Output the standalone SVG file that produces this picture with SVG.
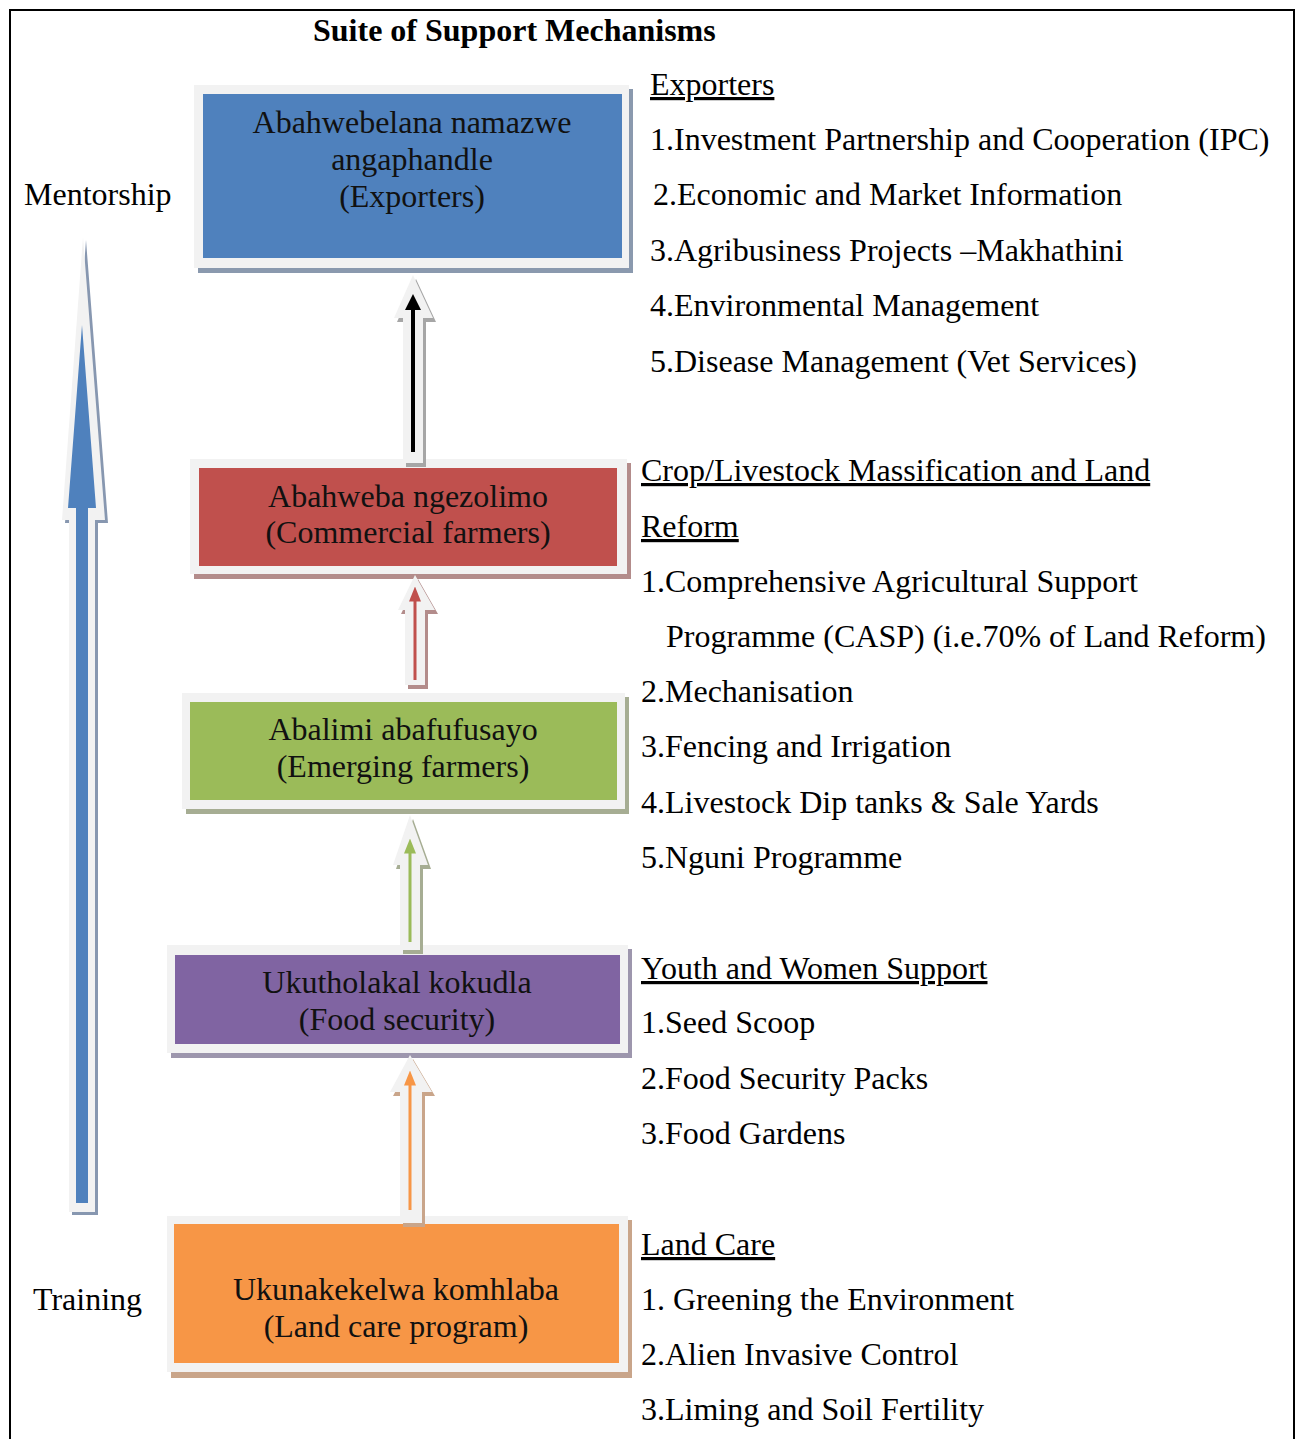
<svg xmlns="http://www.w3.org/2000/svg" width="1295" height="1439" viewBox="0 0 1295 1439">
  <style>
    text { font-family: "Liberation Serif", "Times New Roman", serif; font-size: 32px; fill: #000; }
    .title { font-weight: bold; }
    .box-label { text-anchor: middle; fill: #111; }
    .head { text-decoration: underline; }
    .frame { fill: #f2f2f2; }
    .block { fill: #f2f2f2; }
  </style>
  <defs>
    <marker id="tip-black" markerWidth="4" markerHeight="4" refX="0.5" refY="2" orient="auto" markerUnits="strokeWidth">
      <path d="M0,0 L4,2 L0,4 Z" fill="#000"/>
    </marker>
    <marker id="tip-red" markerWidth="5" markerHeight="4" refX="0.5" refY="2" orient="auto" markerUnits="strokeWidth">
      <path d="M0,0 L5,2 L0,4 Z" fill="#c0504d"/>
    </marker>
    <marker id="tip-green" markerWidth="5" markerHeight="4" refX="0.5" refY="2" orient="auto" markerUnits="strokeWidth">
      <path d="M0,0 L5,2 L0,4 Z" fill="#9bbb59"/>
    </marker>
    <marker id="tip-orange" markerWidth="5" markerHeight="4" refX="0.5" refY="2" orient="auto" markerUnits="strokeWidth">
      <path d="M0,0 L5,2 L0,4 Z" fill="#f79646"/>
    </marker>
  </defs>

  <rect width="1295" height="1439" fill="#fff"/>
  <!-- outer frame -->
  <path d="M10,1439 V10 H1294 V1439" fill="none" stroke="#000" stroke-width="2"/>

  <text class="title" x="313" y="41">Suite of Support Mechanisms</text>
  <text x="24" y="205">Mentorship</text>
  <text x="33" y="1310">Training</text>

  <!-- big progression arrow on the left -->
  <g id="progress-arrow">
    <path d="M86,240 L108,523 L98,523 L98,1215 L72,1215 L72,523 L65,523 Z" fill="#8797b0"/>
    <path d="M83,237 L105,520 L95,520 L95,1212 L69,1212 L69,520 L62,520 Z" fill="#f2f2f2"/>
    <path d="M82,325 L96,508 L88,508 L88,1203 L76,1203 L76,508 L68,508 Z" fill="#4f81bd"/>
  </g>

  <!-- nodes -->
  <g id="node-exporters">
    <rect x="198" y="89" width="435" height="184" fill="#8a99ae"/>
    <rect class="frame" x="194" y="85" width="435" height="183"/>
    <rect x="203" y="94" width="419" height="164" fill="#4f81bd"/>
    <text class="box-label" x="412" y="133">Abahwebelana namazwe</text>
    <text class="box-label" x="412" y="170">angaphandle</text>
    <text class="box-label" x="412" y="207">(Exporters)</text>
  </g>

  <g id="node-commercial">
    <rect x="194" y="463" width="437" height="116" fill="#b38c8b"/>
    <rect class="frame" x="190" y="459" width="437" height="115"/>
    <rect x="199" y="468" width="418" height="98" fill="#c0504d"/>
    <text class="box-label" x="408" y="507">Abahweba ngezolimo</text>
    <text class="box-label" x="408" y="543">(Commercial farmers)</text>
  </g>

  <g id="node-emerging">
    <rect x="186" y="697" width="443" height="117" fill="#a6ad93"/>
    <rect class="frame" x="182" y="693" width="443" height="116"/>
    <rect x="190" y="702" width="427" height="98" fill="#9bbb59"/>
    <text class="box-label" x="403" y="740">Abalimi abafufusayo</text>
    <text class="box-label" x="403" y="777">(Emerging farmers)</text>
  </g>

  <g id="node-food-security">
    <rect x="171" y="949" width="461" height="109" fill="#9d96ad"/>
    <rect class="frame" x="167" y="945" width="461" height="108"/>
    <rect x="175" y="955" width="445" height="89" fill="#8064a2"/>
    <text class="box-label" x="397" y="993">Ukutholakal kokudla</text>
    <text class="box-label" x="397" y="1030">(Food security)</text>
  </g>

  <g id="node-land-care">
    <rect x="171" y="1220" width="461" height="158" fill="#c9a58a"/>
    <rect class="frame" x="167" y="1216" width="461" height="156"/>
    <rect x="174" y="1224" width="445" height="139" fill="#f79646"/>
    <text class="box-label" x="396" y="1300">Ukunakekelwa komhlaba</text>
    <text class="box-label" x="396" y="1337">(Land care program)</text>
  </g>

  <!-- connectors: block arrows with a coloured line arrow inside -->
  <g id="connectors">
    <path d="M416,279 L436,322 L426,322 L426,467 L406,467 L406,322 L397,322 Z" fill="#a6a6a6"/>
    <path class="block" d="M413,275 L433,318 L423,318 L423,463 L403,463 L403,318 L394,318 Z"/>
    <line x1="413" y1="452" x2="413" y2="308" stroke="#000" stroke-width="4" marker-end="url(#tip-black)"/>

    <path d="M418,579 L438,614 L428,614 L428,689 L408,689 L408,614 L401,614 Z" fill="#b38c8b"/>
    <path class="block" d="M415,575 L435,610 L425,610 L425,685 L405,685 L405,610 L398,610 Z"/>
    <line x1="415" y1="680" x2="415" y2="600" stroke="#c0504d" stroke-width="3" marker-end="url(#tip-red)"/>

    <path d="M413,819 L431,869 L423,869 L423,954 L403,954 L403,869 L396,869 Z" fill="#a6ad93"/>
    <path class="block" d="M410,815 L428,865 L420,865 L420,950 L400,950 L400,865 L393,865 Z"/>
    <line x1="410" y1="942" x2="410" y2="852" stroke="#9bbb59" stroke-width="3" marker-end="url(#tip-green)"/>

    <path d="M413,1059 L435,1096 L425,1096 L425,1227 L403,1227 L403,1096 L393,1096 Z" fill="#c9a58a"/>
    <path class="block" d="M410,1055 L432,1092 L422,1092 L422,1223 L400,1223 L400,1092 L390,1092 Z"/>
    <line x1="410" y1="1210" x2="410" y2="1084" stroke="#f79646" stroke-width="3" marker-end="url(#tip-orange)"/>
  </g>

  <!-- support mechanisms per level -->
  <g id="list-exporters">
    <text class="head" x="650" y="95">Exporters</text>
    <text x="650" y="150">1.Investment Partnership and Cooperation (IPC)</text>
    <text x="653" y="205">2.Economic and Market Information</text>
    <text x="650" y="261">3.Agribusiness Projects –Makhathini</text>
    <text x="650" y="316">4.Environmental Management</text>
    <text x="650" y="372">5.Disease Management (Vet Services)</text>
  </g>

  <g id="list-massification">
    <text class="head" x="641" y="481">Crop/Livestock Massification and Land</text>
    <text class="head" x="641" y="537">Reform</text>
    <text x="641" y="592">1.Comprehensive Agricultural Support</text>
    <text x="666" y="647">Programme (CASP) (i.e.70% of Land Reform)</text>
    <text x="641" y="702">2.Mechanisation</text>
    <text x="641" y="757">3.Fencing and Irrigation</text>
    <text x="641" y="813">4.Livestock Dip tanks &amp; Sale Yards</text>
    <text x="641" y="868">5.Nguni Programme</text>
  </g>

  <g id="list-youth-women">
    <text class="head" x="641" y="979">Youth and Women Support</text>
    <text x="641" y="1033">1.Seed Scoop</text>
    <text x="641" y="1089">2.Food Security Packs</text>
    <text x="641" y="1144">3.Food Gardens</text>
  </g>

  <g id="list-land-care">
    <text class="head" x="641" y="1255">Land Care</text>
    <text x="641" y="1310">1. Greening the Environment</text>
    <text x="641" y="1365">2.Alien Invasive Control</text>
    <text x="641" y="1420">3.Liming and Soil Fertility</text>
  </g>
</svg>
